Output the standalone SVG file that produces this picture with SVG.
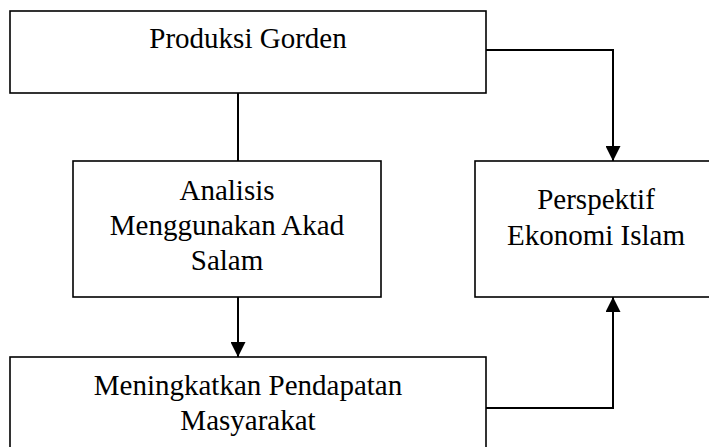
<svg xmlns="http://www.w3.org/2000/svg" width="709" height="447" viewBox="0 0 709 447">
<style>
.box{fill:#fff;stroke:#000;stroke-width:1.6}
.lbl{font-family:"Liberation Serif","Times New Roman",serif;font-size:29px;fill:#000;text-anchor:middle}
.con{fill:none;stroke:#000;stroke-width:2}
</style>
<defs>
<marker id="ah" markerWidth="15" markerHeight="15" viewBox="0 0 15 15" refX="15" refY="7.5" orient="auto" markerUnits="userSpaceOnUse">
<path d="M0,0 L15,7.5 L0,15 Z" fill="#000"/>
</marker>
</defs>
<rect width="709" height="447" fill="#fff"/>
<g id="connectors">
<polyline class="con" points="486,50 613,50 613,161" marker-end="url(#ah)"/>
<line class="con" x1="238" y1="93" x2="238" y2="161"/>
<line class="con" x1="238" y1="297" x2="238" y2="357" marker-end="url(#ah)"/>
<polyline class="con" points="486,408 613,408 613,297" marker-end="url(#ah)"/>
</g>
<g id="produksi">
<rect class="box" x="10" y="11" width="476" height="82"/>
<text class="lbl" x="248" y="48">Produksi Gorden</text>
</g>
<g id="analisis">
<rect class="box" x="73" y="161" width="308" height="136"/>
<text class="lbl" x="227" y="200">Analisis</text>
<text class="lbl" x="227" y="235">Menggunakan Akad</text>
<text class="lbl" x="227" y="270">Salam</text>
</g>
<g id="perspektif">
<rect class="box" x="475" y="161" width="243" height="136"/>
<text class="lbl" x="596" y="209">Perspektif</text>
<text class="lbl" x="596" y="245">Ekonomi Islam</text>
</g>
<g id="meningkatkan">
<rect class="box" x="10" y="357" width="476" height="100"/>
<text class="lbl" x="248" y="395">Meningkatkan Pendapatan</text>
<text class="lbl" x="248" y="430">Masyarakat</text>
</g>
</svg>
